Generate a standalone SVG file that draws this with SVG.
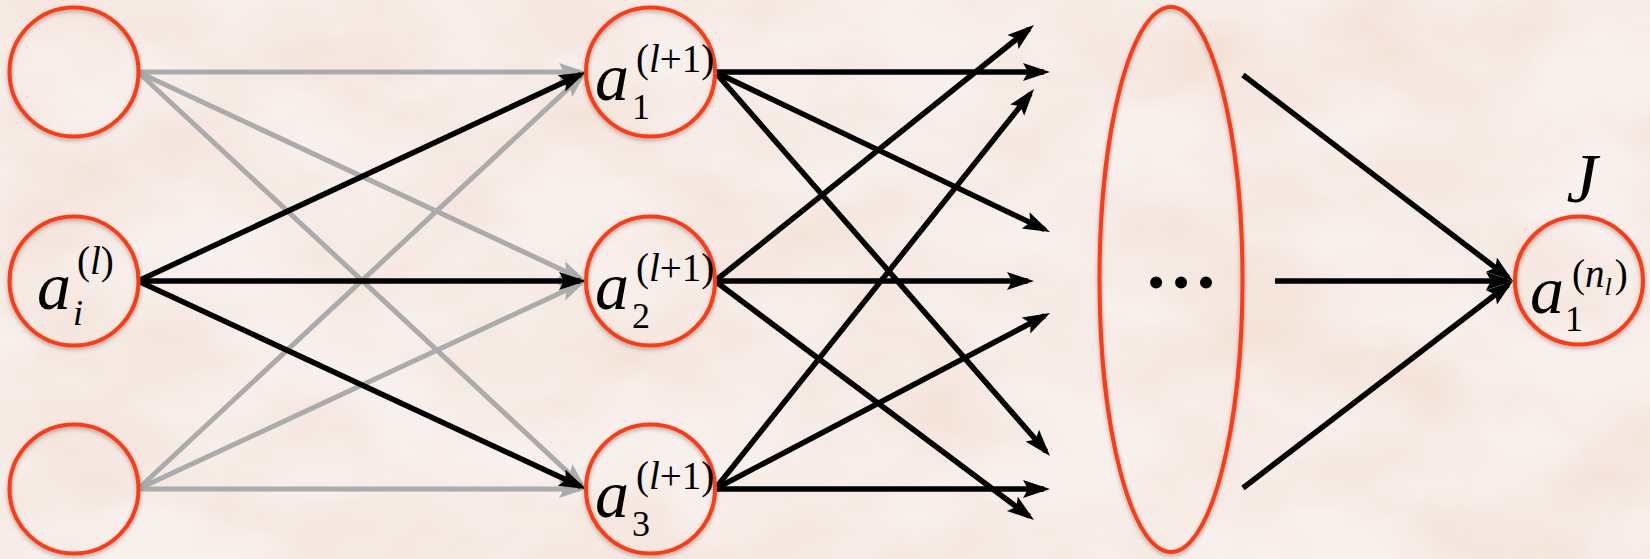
<svg xmlns="http://www.w3.org/2000/svg" width="1650" height="559" viewBox="0 0 1650 559">
<style>
.node{fill:none;stroke:#ff3a12;stroke-width:4}
.g{stroke:#ababab;stroke-width:5;fill:none;marker-end:url(#ag)}
.k{stroke:#000;stroke-width:5.5;fill:none;marker-end:url(#ak)}
.kk{stroke:#000;stroke-width:5.5;fill:none;marker-end:url(#ak)}
.lbl{font-family:"Liberation Serif","DejaVu Serif","Times New Roman",serif;fill:#000}
.a{font-size:68px;font-style:italic}
.sub{font-size:36px}
.sup{font-size:39px}
.it{font-style:italic}
</style>
<defs>
<marker id="ak" markerUnits="userSpaceOnUse" markerWidth="32" markerHeight="20" refX="21" refY="9" orient="auto"><path d="M0,0 L27,9 L0,18 L5,9 Z" fill="#000"/></marker>
<marker id="ag" markerUnits="userSpaceOnUse" markerWidth="32" markerHeight="20" refX="21" refY="9" orient="auto"><path d="M0,0 L27,9 L0,18 L5,9 Z" fill="#ababab"/></marker>
<filter id="paper" x="0" y="0" width="100%" height="100%">
<feTurbulence type="fractalNoise" baseFrequency="0.006 0.01" numOctaves="4" seed="7"/>
<feColorMatrix type="matrix" values="0 0 0 0 0.9  0 0 0 0 0.74  0 0 0 0 0.66  1.6 0 0 0 -0.52"/>
</filter>
<filter id="sh" x="-20%" y="-20%" width="140%" height="140%"><feDropShadow dx="0" dy="2" stdDeviation="2" flood-color="#000" flood-opacity="0.3"/></filter>
</defs>
<rect x="0" y="0" width="1650" height="559" fill="#f8f0ed"/>
<rect x="0" y="0" width="1650" height="559" filter="url(#paper)"/>

<g id="connectors">
<line class="g" x1="138" y1="72" x2="580" y2="72"/>
<line class="g" x1="138" y1="72" x2="580.6" y2="278.5"/>
<line class="g" x1="138" y1="72" x2="581.6" y2="484.9"/>
<line class="g" x1="138" y1="489" x2="581.6" y2="76.1"/>
<line class="g" x1="138" y1="489" x2="580.6" y2="283.5"/>
<line class="g" x1="138" y1="489" x2="580" y2="489"/>
<line class="k" x1="138" y1="281" x2="580.6" y2="74.5"/>
<line class="k" x1="138" y1="281" x2="580" y2="281"/>
<line class="k" x1="138" y1="281" x2="580.6" y2="486.5"/>
<line class="k" x1="715" y1="72" x2="1044" y2="72"/>
<line class="k" x1="715" y1="72" x2="1044.6" y2="229.4"/>
<line class="k" x1="715" y1="72" x2="1046.1" y2="451.5"/>
<line class="k" x1="715" y1="281" x2="1029.3" y2="28.8"/>
<line class="k" x1="715" y1="281" x2="1028" y2="281"/>
<line class="k" x1="715" y1="281" x2="1029.2" y2="516.4"/>
<line class="k" x1="715" y1="489" x2="1030.3" y2="93.7"/>
<line class="k" x1="715" y1="489" x2="1044.7" y2="315.8"/>
<line class="k" x1="715" y1="489" x2="1044" y2="489"/>
<line class="kk" x1="1243" y1="75" x2="1508.2" y2="277.4"/>
<line class="kk" x1="1275" y1="281" x2="1507" y2="281"/>
<line class="kk" x1="1243" y1="488" x2="1508.2" y2="284.7"/>
</g>

<g id="n_in1"><circle class="node" filter="url(#sh)" cx="74" cy="72" r="64.5"/></g>
<g id="n_ai"><circle class="node" filter="url(#sh)" cx="74" cy="281" r="64.5"/>
<text class="lbl"><tspan class="a" x="37" y="309">a</tspan><tspan class="sup" x="77" y="274">(<tspan class="it">l</tspan>)</tspan><tspan class="sub it" x="73" y="325">i</tspan></text></g>
<g id="n_in3"><circle class="node" filter="url(#sh)" cx="74" cy="489" r="64.5"/></g>

<g id="n_a1"><circle class="node" filter="url(#sh)" cx="650.5" cy="72" r="64.5"/>
<text class="lbl"><tspan class="a" x="595" y="100">a</tspan><tspan class="sup" x="636" y="72">(<tspan class="it">l</tspan>+1)</tspan><tspan class="sub" x="632" y="119">1</tspan></text></g>
<g id="n_a2"><circle class="node" filter="url(#sh)" cx="650.5" cy="281" r="64.5"/>
<text class="lbl"><tspan class="a" x="595" y="309">a</tspan><tspan class="sup" x="636" y="281">(<tspan class="it">l</tspan>+1)</tspan><tspan class="sub" x="632" y="328">2</tspan></text></g>
<g id="n_a3"><circle class="node" filter="url(#sh)" cx="650.5" cy="489" r="64.5"/>
<text class="lbl"><tspan class="a" x="595" y="517">a</tspan><tspan class="sup" x="636" y="489">(<tspan class="it">l</tspan>+1)</tspan><tspan class="sub" x="632" y="536">3</tspan></text></g>

<g id="n_hidden"><ellipse class="node" filter="url(#sh)" cx="1171" cy="279.5" rx="71.5" ry="272.5"/>
<text class="lbl" x="1181" y="288" font-size="74" font-weight="bold" text-anchor="middle">…</text></g>

<g id="n_out"><circle class="node" filter="url(#sh)" cx="1579" cy="280.5" r="64"/>
<text class="lbl" x="1582" y="202" font-size="70" font-style="italic" text-anchor="middle">J</text>
<text class="lbl"><tspan class="a" x="1530" y="313">a</tspan><tspan class="sup" x="1572" y="287">(<tspan class="it">n</tspan><tspan class="it" font-size="26" dy="8">l</tspan><tspan dy="-8" dx="3">)</tspan></tspan><tspan class="sub" x="1565" y="331">1</tspan></text></g>
</svg>
